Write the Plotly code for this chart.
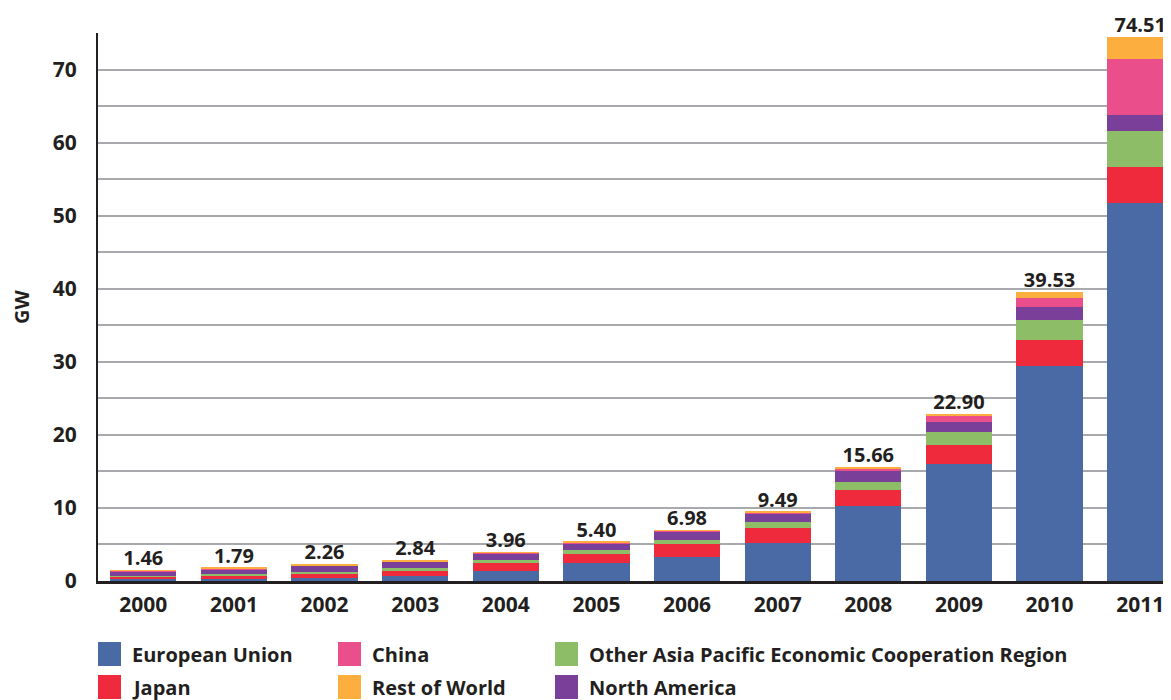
import plotly.graph_objects as go

years = ["2000", "2001", "2002", "2003", "2004", "2005", "2006", "2007", "2008", "2009", "2010", "2011"]

# Stacked from bottom to top
european_union = [0.25, 0.28, 0.40, 0.65, 1.32, 2.40, 3.23, 5.14, 10.30, 16.00, 29.40, 51.80]
japan          = [0.35, 0.45, 0.65, 0.82, 1.14, 1.30, 1.82, 2.09, 2.10, 2.60, 3.60, 4.90]
other_apec     = [0.12, 0.25, 0.17, 0.25, 0.41, 0.55, 0.54, 0.82, 1.20, 1.80, 2.70, 4.90]
north_america  = [0.62, 0.64, 0.90, 0.95, 0.95, 0.95, 1.23, 1.13, 1.40, 1.40, 1.75, 2.20]
china          = [0.10, 0.12, 0.04, 0.05, 0.10, 0.12, 0.08, 0.20, 0.45, 0.80, 1.25, 7.70]
rest_of_world  = [0.02, 0.05, 0.10, 0.12, 0.04, 0.08, 0.08, 0.11, 0.21, 0.30, 0.83, 3.01]

total_labels = ["1.46", "1.79", "2.26", "2.84", "3.96", "5.40", "6.98", "9.49", "15.66", "22.90", "39.53", "74.51"]
totals = [1.46, 1.79, 2.26, 2.84, 3.96, 5.40, 6.98, 9.49, 15.66, 22.90, 39.53, 74.51]

series_names = ["European Union", "Japan", "Other Asia Pacific Economic Cooperation Region",
                "North America", "China", "Rest of World"]
series_values = [european_union, japan, other_apec, north_america, china, rest_of_world]
series_colors = ["#4A6AA5", "#EE2A3C", "#8EBD67", "#7A3F98", "#EA4E8B", "#FCAF3F"]

y_ticks = [0, 5, 10, 15, 20, 25, 30, 35, 40, 45, 50, 55, 60, 65, 70, 75]
y_tick_text = ["0", "", "10", "", "20", "", "30", "", "40", "", "50", "", "60", "", "70", ""]

FONT = "Open Sans"
DARK = "#231F20"

fig = go.Figure()
for name, vals, col in zip(series_names, series_values, series_colors):
    fig.add_trace(go.Bar(x=years, y=vals, name=name, marker=dict(color=col, line=dict(width=0)),
                         showlegend=False))

fig.add_trace(go.Scatter(x=years, y=totals, text=total_labels, mode="text",
                         textposition="top center", cliponaxis=False, showlegend=False,
                         textfont=dict(family=FONT, size=20, color=DARK, weight="bold"),
                         hoverinfo="skip"))

# figure sized to fit the viewport inside the page's 8px body margin
W, H = 1163, 692
ml, mr, mt, mb = 90, 0, 25, 119
pw, ph = W - ml - mr, H - mt - mb

def px_to_paper(x, y):
    return (x - ml) / pw, (H - mb - y) / ph

# Manual legend (large swatches) arranged in 3 columns x 2 rows
legend_layout = [
    ("European Union", 0, 0), ("China", 1, 0), ("Other Asia Pacific Economic Cooperation Region", 2, 0),
    ("Japan", 0, 1), ("Rest of World", 1, 1), ("North America", 2, 1),
]
col_x = [90, 330, 547]
row_y = [634, 667]
sw, sh = 23, 24
shapes = []
annotations = []
for name, c, r in legend_layout:
    color = series_colors[series_names.index(name)]
    x0, y0 = px_to_paper(col_x[c], row_y[r])
    x1, y1 = px_to_paper(col_x[c] + sw, row_y[r] + sh)
    shapes.append(dict(type="rect", xref="paper", yref="paper", x0=x0, x1=x1, y0=y1, y1=y0,
                       fillcolor=color, line=dict(width=0)))
    tx, ty = px_to_paper(col_x[c] + sw + 9, row_y[r] + sh / 2)
    annotations.append(dict(xref="paper", yref="paper", x=tx, y=ty, xanchor="left", yanchor="middle",
                            text=name, showarrow=False,
                            font=dict(family=FONT, size=20, color=DARK, weight="bold")))

fig.update_layout(
    width=W, height=H,
    margin=dict(l=ml, r=mr, t=mt, b=mb, pad=0),
    barmode="stack", bargap=0.27,
    plot_bgcolor="white", paper_bgcolor="white",
    font=dict(family=FONT, color=DARK),
    shapes=shapes, annotations=annotations,
    xaxis=dict(type="category", range=[-0.5, 11.34], showgrid=False,
               showline=True, linecolor=DARK, linewidth=2.5, ticks="", ticklabelstandoff=3,
               tickfont=dict(family=FONT, size=21, color=DARK, weight="bold")),
    yaxis=dict(range=[0, 75], tickvals=y_ticks, ticktext=y_tick_text,
               showgrid=True, gridcolor="#A8A9AD", gridwidth=1.5,
               showline=True, linecolor=DARK, linewidth=2, ticks="", ticklabelstandoff=15,
               zeroline=False,
               tickfont=dict(family=FONT, size=21, color=DARK, weight="bold"),
               title=dict(text="GW", standoff=22,
                          font=dict(family=FONT, size=20, color=DARK, weight="bold"))),
)

fig.write_html("out.html")
